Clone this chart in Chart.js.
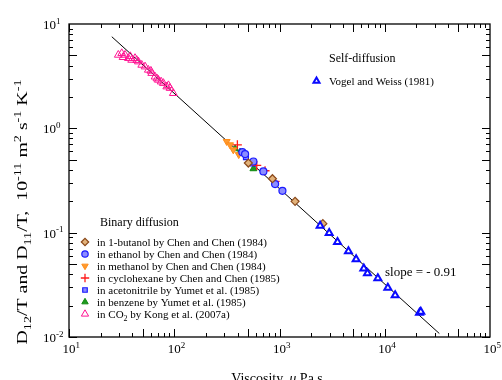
<!DOCTYPE html>
<html>
<head>
<meta charset="utf-8">
<script src="https://cdn.jsdelivr.net/npm/chart.js@4/dist/chart.umd.min.js"></script>
<style>
  body { margin: 0; background: #fff; }
</style>
</head>
<body>
<canvas id="chart" width="502" height="380"></canvas>
<script>
// viscosity (uPa s) and D/T (1e-11 m2 s-1 K-1)
const co2X = [29.4, 31.7, 32.6, 34.1, 36.6, 38.2, 39.4, 42.4, 44.0, 45.6, 49.1, 52.8, 56.7, 60.0, 61.1, 65.7, 68.5, 70.6, 75.0, 78.8, 84.9, 88.0, 91.2, 98.0];
const co2Y = [5.05, 5.24, 4.80, 5.05, 4.70, 4.90, 4.52, 4.70, 4.50, 4.36, 4.05, 3.90, 3.63, 3.55, 3.38, 3.12, 3.00, 2.91, 2.80, 2.71, 2.51, 2.58, 2.43, 2.17];

const butanolX = [506, 857, 1406, 2582];
const butanolY = [0.465, 0.329, 0.1995, 0.122];

const ethanolX = [444, 471, 565, 703, 908, 1066];
const ethanolY = [0.591, 0.566, 0.481, 0.386, 0.292, 0.252];

const methanolX = [315, 339, 364, 410];
const methanolY = [0.748, 0.695, 0.622, 0.560];

const cyclohexaneX = [398, 608, 729, 908];
const cyclohexaneY = [0.695, 0.441, 0.392, 0.310];

const acetonitrileX = [480, 560];
const acetonitrileY = [0.53, 0.46];

const benzeneX = [379, 422, 565];
const benzeneY = [0.637, 0.591, 0.410];

const vogelX = [2432, 2965, 3557, 4520, 5346, 6324, 6850, 8600, 10700, 12560, 21380, 22000];
const vogelY = [0.1167, 0.0993, 0.0814, 0.0662, 0.0555, 0.0453, 0.0408, 0.0366, 0.0296, 0.0251, 0.0171, 0.0175];

const fitX = [25.5, 33000];
const fitY = [7.55, 0.0108];

const xDecades = [1, 2, 3, 4, 5];
const yDecades = [-2, -1, 0, 1];

const SERIF = '"Liberation Serif", "Times New Roman", serif';

function pts(xs, ys) {
    return xs.map((x, i) => ({ x, y: ys[i] }));
}

const series = [
    { label: 'in 1-butanol by Chen and Chen (1984)', x: butanolX, y: butanolY, style: 'rectRot', border: '#8B4A1C', fill: '#E2B27A', radius: 4, bw: 1.2 },
    { label: 'in ethanol by Chen and Chen (1984)', x: ethanolX, y: ethanolY, style: 'circle', border: '#1A1AFF', fill: '#8C8CFF', radius: 3.5, bw: 1.2 },
    { label: 'in methanol by Chen and Chen (1984)', x: methanolX, y: methanolY, style: 'triangle', rot: 180, border: '#FF8C1A', fill: '#FF9A2E', radius: 4, bw: 1 },
    { label: 'in cyclohexane by Chen and Chen (1985)', x: cyclohexaneX, y: cyclohexaneY, style: 'cross', border: '#FF1A1A', fill: '#FF1A1A', radius: 4.5, bw: 1.3 },
    { label: 'in acetonitrile by Yumet et al. (1985)', x: acetonitrileX, y: acetonitrileY, style: 'rect', border: '#1A1AFF', fill: '#8C8CFF', radius: 3.5, bw: 1.2 },
    { label: 'in benzene by Yumet et al. (1985)', x: benzeneX, y: benzeneY, style: 'triangle', border: '#108A10', fill: '#1E9A1E', radius: 4, bw: 1 },
    { label: 'in CO2 by Kong et al. (2007a)', x: co2X, y: co2Y, style: 'triangle', border: '#FF1493', fill: 'rgba(255,255,255,0)', radius: 4.5, bw: 1 },
];

const datasets = [
    {
        type: 'line',
        data: pts(fitX, fitY),
        borderColor: '#000',
        borderWidth: 1,
        pointRadius: 0,
        order: 10,
    },
    {
        data: pts(vogelX, vogelY),
        pointStyle: 'triangle',
        pointRadius: 4,
        pointBorderWidth: 2,
        pointBorderColor: '#0A0AFF',
        pointBackgroundColor: '#fff',
    },
];
series.forEach(s => {
    datasets.push({
        data: pts(s.x, s.y),
        pointStyle: s.style,
        pointRotation: s.rot || 0,
        pointRadius: s.radius,
        pointBorderWidth: s.bw,
        pointBorderColor: s.border,
        pointBackgroundColor: s.fill,
    });
});

function font(size) {
    return `${size}px ${SERIF}`;
}

// parts: [text, mode] with mode 0 normal, 1 superscript, -1 subscript
function richWidth(ctx, parts, size) {
    let w = 0;
    parts.forEach(([t, m]) => {
        ctx.font = font(m ? Math.round(size * 0.7) : size);
        w += ctx.measureText(t).width;
    });
    return w;
}

function drawRich(ctx, parts, x, y, size) {
    let cx = x;
    parts.forEach(([t, m]) => {
        const s = m ? Math.round(size * 0.7) : size;
        ctx.font = font(s);
        const dy = m === 1 ? -size * 0.4 : m === -1 ? size * 0.25 : 0;
        ctx.fillText(t, cx, y + dy);
        cx += ctx.measureText(t).width;
    });
}

const decor = {
    id: 'decor',
    afterDraw(chart) {
        const ctx = chart.ctx;
        const { left, right, top, bottom } = chart.chartArea;
        const xs = chart.scales.x;
        const ys = chart.scales.y;
        ctx.save();
        ctx.strokeStyle = '#000';
        ctx.fillStyle = '#000';
        ctx.textAlign = 'left';
        ctx.textBaseline = 'alphabetic';

        // frame
        ctx.lineWidth = 1.3;
        ctx.strokeRect(left, top, right - left, bottom - top);

        // inward ticks on all four sides
        ctx.lineWidth = 1;
        ctx.beginPath();
        for (let d = 1; d < 5; d++) {
            for (let m = 1; m < 10; m++) {
                const v = m * Math.pow(10, d);
                const px = Math.round(xs.getPixelForValue(v)) + 0.5;
                const len = (m === 1 || m === 5) ? 8 : 4;
                ctx.moveTo(px, bottom); ctx.lineTo(px, bottom - len);
                ctx.moveTo(px, top); ctx.lineTo(px, top + len);
            }
        }
        for (let d = -2; d < 1; d++) {
            for (let m = 1; m < 10; m++) {
                const v = m * Math.pow(10, d);
                const py = Math.round(ys.getPixelForValue(v)) + 0.5;
                const len = (m === 1 || m === 5) ? 8 : 4;
                ctx.moveTo(left, py); ctx.lineTo(left + len, py);
                ctx.moveTo(right, py); ctx.lineTo(right - len, py);
            }
        }
        ctx.stroke();

        // tick labels
        xDecades.forEach(e => {
            const px = xs.getPixelForValue(Math.pow(10, e));
            ctx.font = font(13);
            const w10 = ctx.measureText('10').width;
            drawRich(ctx, [['10', 0], [String(e), 1]], px - w10 / 2, bottom + 16, 13);
        });
        yDecades.forEach(e => {
            const py = ys.getPixelForValue(Math.pow(10, e));
            drawRich(ctx, [['10', 0], [String(e), 1]], 43, py + 5, 13);
        });

        // x axis title
        ctx.font = font(14);
        const wA = ctx.measureText('Viscosity, ').width;
        ctx.font = 'italic ' + font(14);
        const wMu = ctx.measureText('\u03bc').width;
        ctx.font = font(14);
        const wB = ctx.measureText(' Pa s').width;
        const sx = 277 - (wA + wMu + wB) / 2;
        ctx.fillText('Viscosity, ', sx, 383);
        ctx.font = 'italic ' + font(14);
        ctx.fillText('\u03bc', sx + wA, 383);
        ctx.font = font(14);
        ctx.fillText(' Pa s', sx + wA + wMu, 383);

        // y axis title, stretched along its length like the original
        const yt = [['D', 0], ['12', -1], ['/T and D', 0], ['11', -1], ['/T,  10', 0], ['-11', 1],
            [' m', 0], ['2', 1], [' s', 0], ['-1', 1], [' K', 0], ['-1', 1]];
        ctx.save();
        ctx.translate(27, 212);
        ctx.rotate(-Math.PI / 2);
        const wy = richWidth(ctx, yt, 14);
        ctx.scale(265 / wy, 1);
        drawRich(ctx, yt, -wy / 2, 0, 14);
        ctx.restore();

        // self-diffusion legend
        ctx.font = font(12);
        ctx.fillText('Self-diffusion', 329, 62);
        ctx.fillStyle = '#fff';
        ctx.strokeStyle = '#0A0AFF';
        ctx.lineWidth = 2;
        Chart.helpers.drawPoint(ctx, { pointStyle: 'triangle', radius: 3.5, rotation: 0, borderWidth: 2 }, 316.5, 81);
        ctx.fillStyle = '#000';
        ctx.font = font(11);
        ctx.fillText('Vogel and Weiss (1981)', 329, 85);

        // binary diffusion legend
        ctx.font = font(12);
        ctx.fillText('Binary diffusion', 100, 226);
        series.forEach((s, i) => {
            const y = 242 + i * 12;
            ctx.fillStyle = s.fill;
            ctx.strokeStyle = s.border;
            ctx.lineWidth = s.bw;
            Chart.helpers.drawPoint(ctx, { pointStyle: s.style, radius: s.radius - 0.3, rotation: s.rot || 0, borderWidth: s.bw }, 85, y);
            ctx.fillStyle = '#000';
            const parts = s.label.indexOf('CO2') >= 0
                ? [['in CO', 0], ['2', -1], [' by Kong et al. (2007a)', 0]]
                : [[s.label, 0]];
            drawRich(ctx, parts, 97, y + 4, 11);
        });

        // slope annotation
        ctx.font = font(13);
        ctx.fillText('slope = - 0.91', 385, 276);
        ctx.restore();
    }
};

new Chart(document.getElementById('chart'), {
    type: 'scatter',
    data: { datasets },
    options: {
        responsive: false,
        animation: false,
        layout: { padding: { left: 69, right: 12, top: 24, bottom: 43 } },
        plugins: {
            legend: { display: false },
            tooltip: { enabled: false },
        },
        scales: {
            x: {
                type: 'logarithmic',
                min: 10,
                max: 100000,
                grid: { display: false },
                border: { display: false },
                ticks: { display: false },
                afterFit: (scale) => { scale.height = 0; },
            },
            y: {
                type: 'logarithmic',
                min: 0.01,
                max: 10,
                grid: { display: false },
                border: { display: false },
                ticks: { display: false },
                afterFit: (scale) => { scale.width = 0; },
            },
        },
    },
    plugins: [decor],
});
</script>
</body>
</html>
